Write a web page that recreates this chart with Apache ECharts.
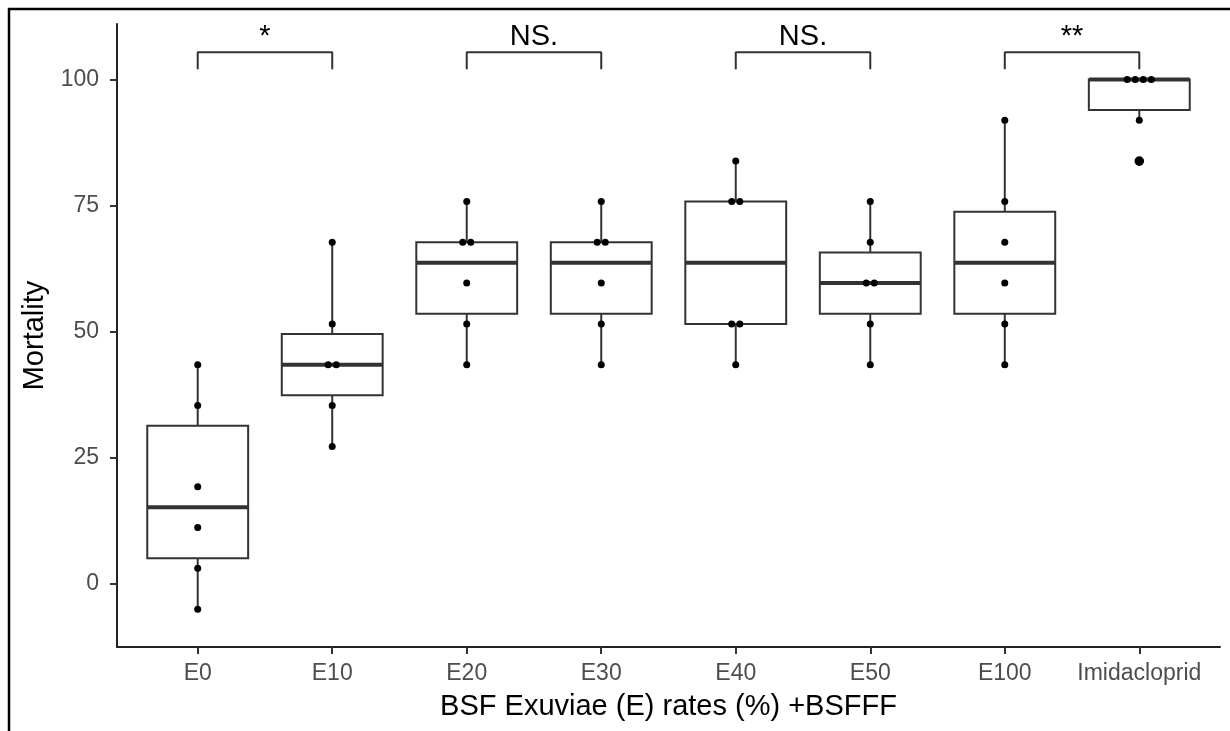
<!DOCTYPE html>
<html>
<head>
<meta charset="utf-8">
<script src="https://cdn.jsdelivr.net/npm/echarts@6/dist/echarts.min.js"></script>
<style>
html,body{margin:0;padding:0;background:#fff;}
#chart{width:1230px;height:731px;}
</style>
</head>
<body>
<div id="chart"></div>
<script>
// ---- data ----
const categories = ['E0', 'E10', 'E20', 'E30', 'E40', 'E50', 'E100', 'Imidacloprid'];
const mortE0 = [-5.1, 3.0, 11.1, 19.2, 35.3, 43.4];
const mortE10 = [27.2, 35.3, 43.4, 43.4, 51.5, 67.7];
const mortE20 = [43.4, 51.5, 59.6, 67.7, 67.7, 75.8];
const mortE30 = [43.4, 51.5, 59.6, 67.7, 67.7, 75.8];
const mortE40 = [43.4, 51.5, 51.5, 75.8, 75.8, 83.8];
const mortE50 = [43.4, 51.5, 59.6, 59.6, 67.7, 75.8];
const mortE100 = [43.4, 51.5, 59.6, 67.7, 75.8, 91.9];
const mortImid = [83.8, 91.9, 100, 100, 100, 100];
const yTicks = [0, 25, 50, 75, 100];
const comparisons = [[0, 1, '*'], [2, 3, 'NS.'], [4, 5, 'NS.'], [6, 7, '**']];
const bracketTop = 105.4;
const bracketTip = 102.0;

const groups = [mortE0, mortE10, mortE20, mortE30, mortE40, mortE50, mortE100, mortImid];

// ---- derived statistics (ggplot-style) ----
function quantile7(sorted, p) {
  const h = (sorted.length - 1) * p;
  const lo = Math.floor(h);
  const e = h - lo;
  return lo + 1 < sorted.length ? sorted[lo] + e * (sorted[lo + 1] - sorted[lo]) : sorted[lo];
}
const boxData = [];
const outliers = [];
groups.forEach(function (g, i) {
  const s = g.slice().sort(function (a, b) { return a - b; });
  const q1 = quantile7(s, 0.25), med = quantile7(s, 0.5), q3 = quantile7(s, 0.75);
  const iqr = q3 - q1;
  const inside = s.filter(function (v) { return v >= q1 - 1.5 * iqr && v <= q3 + 1.5 * iqr; });
  const lo = inside[0], hi = inside[inside.length - 1];
  boxData.push([i, lo, q1, med, q3, hi]);
  outliers.push(s.filter(function (v) { return v < lo || v > hi; }));
});

// dot-plot positions: identical values placed side by side
const dotStep = 0.06;
const dotData = [];
groups.forEach(function (g, i) {
  const counts = {};
  g.forEach(function (v) { counts[v] = (counts[v] || 0) + 1; });
  Object.keys(counts).forEach(function (k) {
    const n = counts[k];
    for (let j = 0; j < n; j++) {
      dotData.push([i + (j - (n - 1) / 2) * dotStep, Number(k)]);
    }
  });
});

const FONT = "'Liberation Sans', Arial, sans-serif";
const boxWidth = 0.75;
const lineCol = '#333333';

const bracketSeries = comparisons.map(function (c) {
  return {
    type: 'line',
    data: [[c[0], bracketTip], [c[0], bracketTop], [c[1], bracketTop], [c[1], bracketTip]],
    symbol: 'none',
    lineStyle: { color: lineCol, width: 2 },
    silent: true,
    animation: false,
    z: 3
  };
});

const chart = echarts.init(document.getElementById('chart'), null, { renderer: 'canvas' });
chart.setOption({
  animation: false,
  backgroundColor: '#ffffff',
  graphic: [{
    type: 'rect',
    shape: { x: 9, y: 9, width: 1240, height: 760 },
    style: { fill: 'none', stroke: '#000', lineWidth: 2.5 },
    silent: true,
    z: 100
  }],
  grid: { left: 117, right: 10, top: 24, bottom: 84, containLabel: false },
  xAxis: {
    type: 'value',
    min: -0.6,
    max: 7.6,
    splitLine: { show: false },
    axisLine: { show: true, onZero: false, lineStyle: { color: '#222', width: 2 } },
    axisTick: { show: true, length: 7, lineStyle: { color: lineCol, width: 2 }, customValues: categories.map(function (c, i) { return i; }) },
    axisLabel: {
      show: true, margin: 15, color: '#4d4d4d', fontSize: 23, fontFamily: FONT,
      customValues: categories.map(function (c, i) { return i; }),
      formatter: function (v) { return categories[Math.round(v)]; }
    },
    name: 'BSF Exuviae (E) rates (%) +BSFFF',
    nameLocation: 'middle',
    nameGap: 45,
    nameTextStyle: { color: '#000', fontSize: 29, fontFamily: FONT }
  },
  yAxis: {
    type: 'value',
    min: -12.6,
    max: 111,
    splitLine: { show: false },
    axisLine: { show: true, onZero: false, lineStyle: { color: '#222', width: 2 } },
    axisTick: { show: true, length: 7, lineStyle: { color: lineCol, width: 2 }, customValues: yTicks },
    axisLabel: { show: true, margin: 18, color: '#4d4d4d', fontSize: 23, fontFamily: FONT, customValues: yTicks },
    name: 'Mortality',
    nameLocation: 'middle',
    nameGap: 62,
    nameTextStyle: { color: '#000', fontSize: 29, fontFamily: FONT }
  },
  series: [{
    type: 'custom',
    data: boxData,
    z: 2,
    silent: true,
    renderItem: function (params, api) {
      const x = api.value(0), lo = api.value(1), q1 = api.value(2), med = api.value(3), q3 = api.value(4), hi = api.value(5);
      const h = boxWidth / 2;
      const tl = api.coord([x - h, q3]);
      const br = api.coord([x + h, q1]);
      const pHi = api.coord([x, hi]);
      const pQ3 = api.coord([x, q3]);
      const pQ1 = api.coord([x, q1]);
      const pLo = api.coord([x, lo]);
      const mL = api.coord([x - h, med]);
      const mR = api.coord([x + h, med]);
      const children = [
        { type: 'line', shape: { x1: pHi[0], y1: pHi[1], x2: pQ3[0], y2: pQ3[1] }, style: { stroke: lineCol, lineWidth: 2 } },
        { type: 'line', shape: { x1: pQ1[0], y1: pQ1[1], x2: pLo[0], y2: pLo[1] }, style: { stroke: lineCol, lineWidth: 2 } },
        { type: 'rect', shape: { x: tl[0], y: tl[1], width: br[0] - tl[0], height: br[1] - tl[1] }, style: { fill: '#fff', stroke: lineCol, lineWidth: 2 } },
        { type: 'line', shape: { x1: mL[0], y1: mL[1], x2: mR[0], y2: mR[1] }, style: { stroke: lineCol, lineWidth: 4 } }
      ];
      outliers[params.dataIndex].forEach(function (v) {
        const p = api.coord([x, v]);
        children.push({ type: 'circle', shape: { cx: p[0], cy: p[1], r: 4.8 }, style: { fill: '#000' } });
      });
      return { type: 'group', children: children };
    }
  }, {
    type: 'scatter',
    data: dotData,
    symbol: 'circle',
    symbolSize: 7,
    itemStyle: { color: '#000', opacity: 1 },
    silent: true,
    z: 4
  }].concat(bracketSeries).concat([{
    type: 'custom',
    data: comparisons.map(function (c) { return [(c[0] + c[1]) / 2, bracketTop]; }),
    z: 5,
    silent: true,
    renderItem: function (params, api) {
      const p = api.coord([api.value(0), api.value(1)]);
      return {
        type: 'text',
        x: p[0], y: p[1] - 1,
        style: {
          text: comparisons[params.dataIndex][2],
          fill: '#000',
          font: '29px ' + FONT,
          align: 'center',
          verticalAlign: 'bottom'
        }
      };
    }
  }])
});
</script>
</body>
</html>
